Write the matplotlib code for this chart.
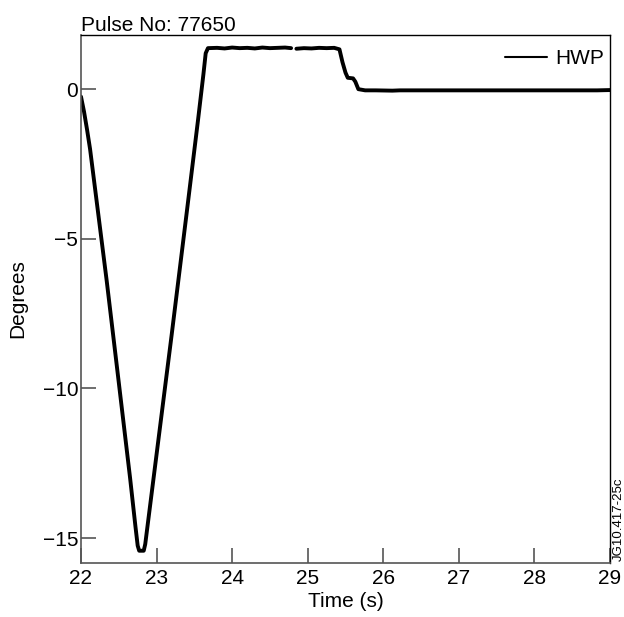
import numpy as np
import matplotlib.pyplot as plt

plt.rcParams['font.family'] = ['Liberation Sans', 'DejaVu Sans']

# HWP angle trace (nan marks the data gap)
time_s = [22.00, 22.04, 22.08, 22.12, 22.20, 22.34, 22.50, 22.65, 22.72, 22.75,
          22.77, 22.83, 22.85, 22.88, 23.00, 23.20, 23.40, 23.55, 23.62, 23.65,
          23.68, 23.80, 23.90, 24.00, 24.10, 24.20, 24.30, 24.40, 24.50, 24.60,
          24.70, 24.78, 24.80, 24.85, 24.95, 25.05, 25.15, 25.25, 25.35, 25.42,
          25.46, 25.50, 25.53, 25.60, 25.63, 25.67, 25.76, 25.90, 26.12, 26.22,
          26.46, 26.99, 27.25, 27.81, 28.15, 28.83, 29.00]
hwp_deg = [-0.25, -0.75, -1.35, -2.0, -3.6, -6.4, -9.8, -13.0, -14.6, -15.25,
           -15.42, -15.42, -15.2, -14.6, -12.2, -8.2, -4.1, -1.0, 0.5, 1.2,
           1.37, 1.38, 1.36, 1.39, 1.37, 1.38, 1.36, 1.39, 1.37, 1.38,
           1.39, 1.37, np.nan, 1.35, 1.37, 1.36, 1.38, 1.37, 1.38, 1.33,
           0.9, 0.55, 0.38, 0.36, 0.25, 0.0, -0.04, -0.04, -0.05, -0.04,
           -0.04, -0.04, -0.04, -0.04, -0.04, -0.04, -0.03]

x_ticks = [22, 23, 24, 25, 26, 27, 28, 29]
y_ticks = [0, -5, -10, -15]
y_tick_labels = ['0', '\u22125', '\u221210', '\u221215']

fig = plt.figure(figsize=(6.24, 6.17), dpi=100)
ax = fig.add_axes([0.1298, 0.0875, 0.8478, 0.8563])

ax.plot(time_s, hwp_deg, color='black', lw=2.8, label='HWP',
        solid_joinstyle='round', solid_capstyle='round')

ax.set_xlim(22, 29)
ax.set_ylim(-15.83, 1.82)
ax.set_xticks(x_ticks)
ax.set_yticks(y_ticks)
ax.set_yticklabels(y_tick_labels)

ax.tick_params(direction='in', length=11, width=1.2, labelsize=15,
               color='#555555', top=False, right=False)
ax.tick_params(axis='x', pad=4)
ax.tick_params(axis='y', pad=2)
for side in ['left', 'bottom']:
    ax.spines[side].set_color('#555555')
    ax.spines[side].set_linewidth(1.2)
for side in ['top', 'right']:
    ax.spines[side].set_color('black')
    ax.spines[side].set_linewidth(1.0)

ax.set_xlabel('Time (s)', fontsize=15, labelpad=3)
ax.set_ylabel('Degrees', fontsize=15, labelpad=11)
ax.set_title('Pulse No: 77650', fontsize=15, loc='left', pad=3)

leg = ax.legend(loc='upper right', frameon=False, fontsize=15, handlelength=2.0,
                handletextpad=0.4, borderaxespad=0, borderpad=0.3,
                bbox_to_anchor=(1, 0.985))
for line in leg.get_lines():
    line.set_linewidth(1.5)

fig.text(0.992, 0.09, 'JG10.417-25c', rotation=90, fontsize=9.5,
         ha='center', va='bottom')

fig.savefig('out.png', dpi=100)
